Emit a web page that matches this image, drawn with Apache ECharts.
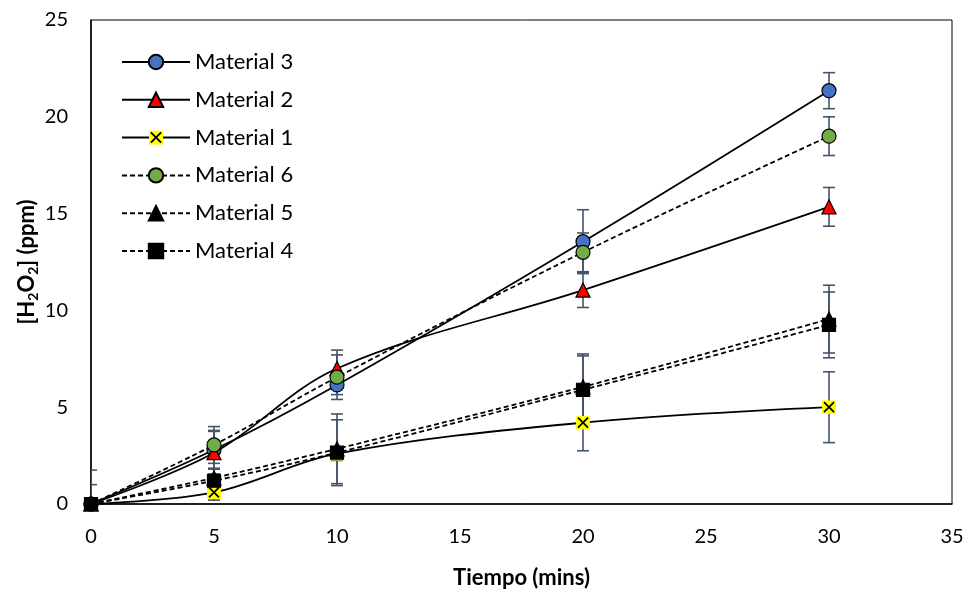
<!DOCTYPE html>
<html>
<head>
<meta charset="utf-8">
<script src="https://cdn.jsdelivr.net/npm/echarts@6/dist/echarts.min.js"></script>
<style>html,body{margin:0;padding:0;background:#fff}#c{width:965px;height:604px}</style>
</head>
<body>
<div id="c"></div>
<script>
const times = [0, 5, 10, 20, 30];
const xTicks = [0, 5, 10, 15, 20, 25, 30, 35];
const yTicks = [0, 5, 10, 15, 20, 25];

const names = ['Material 3', 'Material 2', 'Material 1', 'Material 6', 'Material 5', 'Material 4'];
const m3 = [0, 2.8, 6.15, 13.55, 21.35];
const m2 = [0, 2.65, 7.0, 11.05, 15.35];
const m1 = [0, 0.6, 2.6, 4.2, 5.0];
const m6 = [0, 3.05, 6.55, 13.0, 19.0];
const m5 = [0, 1.35, 2.85, 6.05, 9.55];
const m4 = [0, 1.2, 2.65, 5.9, 9.25];

const e3 = [0, 1.0, 0.5, 1.65, 0.93];
const e2 = [0, 1.1, 0.95, 0.9, 1.0];
const e1 = [0, 0.4, 0.35, 1.45, 1.83];
const e6 = [0, 0.95, 1.15, 1.0, 1.0];
const e5 = [1.75, 0.5, 1.8, 1.6, 1.75];
const e4 = [1.0, 0.6, 1.7, 1.85, 1.7];

const values = [m3, m2, m1, m6, m5, m4];
const errors = [e3, e2, e1, e6, e5, e4];

const xSvg = "<svg xmlns='http://www.w3.org/2000/svg' width='28' height='28' viewBox='0 0 28 28'><rect x='0' y='0' width='28' height='28' fill='#FFFF00'/><path d='M4 4L24 24M24 4L4 24' stroke='#000' stroke-width='3.4' fill='none'/></svg>";
const xSymbol = 'image://data:image/svg+xml;charset=utf-8,' + encodeURIComponent(xSvg);

const styles = [
  {symbol: 'circle', size: 14, color: '#4472C4', dash: 'solid'},
  {symbol: 'triangle', size: 14, color: '#FF0000', dash: 'solid'},
  {symbol: xSymbol, size: 14, color: '#FFFF00', dash: 'solid'},
  {symbol: 'circle', size: 14, color: '#70AD47', dash: [5, 3]},
  {symbol: 'triangle', size: 14, color: '#000000', dash: [5, 3]},
  {symbol: 'rect', size: 13, color: '#000000', dash: [5, 3]}
];

const FONT = 'Lato';
const series = [];

// error bars
values.forEach((vals, i) => {
  series.push({
    type: 'custom',
    name: names[i] + ' err',
    clip: true,
    z: 1,
    silent: true,
    data: times.map((t, k) => [t, vals[k], errors[i][k]]),
    renderItem: function (params, api) {
      const x = api.value(0), v = api.value(1), e = api.value(2);
      if (!e) return null;
      const top = api.coord([x, v + e]);
      const bot = api.coord([x, v - e]);
      const hw = 6;
      const st = {stroke: '#44546A', lineWidth: 1.6};
      return {
        type: 'group',
        children: [
          {type: 'line', shape: {x1: top[0], y1: top[1], x2: bot[0], y2: bot[1]}, style: st},
          {type: 'line', shape: {x1: top[0] - hw, y1: top[1], x2: top[0] + hw, y2: top[1]}, style: st},
          {type: 'line', shape: {x1: bot[0] - hw, y1: bot[1], x2: bot[0] + hw, y2: bot[1]}, style: st}
        ]
      };
    }
  });
});

values.forEach((vals, i) => {
  const s = styles[i];
  series.push({
    type: 'line',
    name: names[i],
    z: 3 + i,
    smooth: 0.35,
    symbol: s.symbol,
    symbolSize: s.size,
    showAllSymbol: true,
    data: times.map((t, k) => [t, vals[k]]),
    lineStyle: {color: '#000', width: 1.8, type: s.dash},
    itemStyle: {color: s.color, borderColor: '#000', borderWidth: 1.2, opacity: 1},
    emphasis: {disabled: true}
  });
});

const chart = echarts.init(document.getElementById('c'), null, {renderer: 'canvas'});
chart.setOption({
  animation: false,
  backgroundColor: '#fff',
  textStyle: {fontFamily: FONT},
  grid: {left: 91, top: 20, right: 13, bottom: 100, show: true, borderColor: '#000', borderWidth: 1, containLabel: false, outerBoundsMode: 'none'},
  legend: {
    data: names,
    orient: 'vertical',
    left: 116,
    top: 46,
    itemWidth: 68,
    itemHeight: 18,
    itemGap: 15.8,
    textStyle: {fontFamily: FONT, fontSize: 22, lineHeight: 20, color: '#000'},
    selectedMode: false
  },
  xAxis: {
    type: 'value',
    min: xTicks[0],
    max: xTicks[xTicks.length - 1],
    interval: 5,
    name: 'Tiempo (mins)',
    nameLocation: 'middle',
    nameGap: 63,
    nameMoveOverlap: false,
    nameTextStyle: {fontFamily: FONT, fontSize: 22, fontWeight: 'bold', color: '#000'},
    axisLine: {show: true, lineStyle: {color: '#000', width: 1.5}},
    axisTick: {show: false},
    splitLine: {show: false},
    axisLabel: {fontFamily: FONT, fontSize: 20, color: '#000', margin: 23}
  },
  yAxis: {
    type: 'value',
    min: yTicks[0],
    max: yTicks[yTicks.length - 1],
    interval: 5,
    name: '{b|[H}{s|2}{b|O}{s|2}{b|] (ppm)}',
    nameLocation: 'middle',
    nameGap: 51,
    nameMoveOverlap: false,
    nameTextStyle: {
      rich: {
        b: {fontFamily: FONT, fontSize: 22, fontWeight: 'bold', color: '#000', lineHeight: 26},
        s: {fontFamily: FONT, fontSize: 14, fontWeight: 'bold', color: '#000', lineHeight: 15, verticalAlign: 'bottom'}
      }
    },
    axisLine: {show: true, lineStyle: {color: '#000', width: 1.5}},
    axisTick: {show: false},
    splitLine: {show: false},
    axisLabel: {fontFamily: FONT, fontSize: 20, color: '#000', margin: 23}
  },
  series: series
});
</script>
</body>
</html>
